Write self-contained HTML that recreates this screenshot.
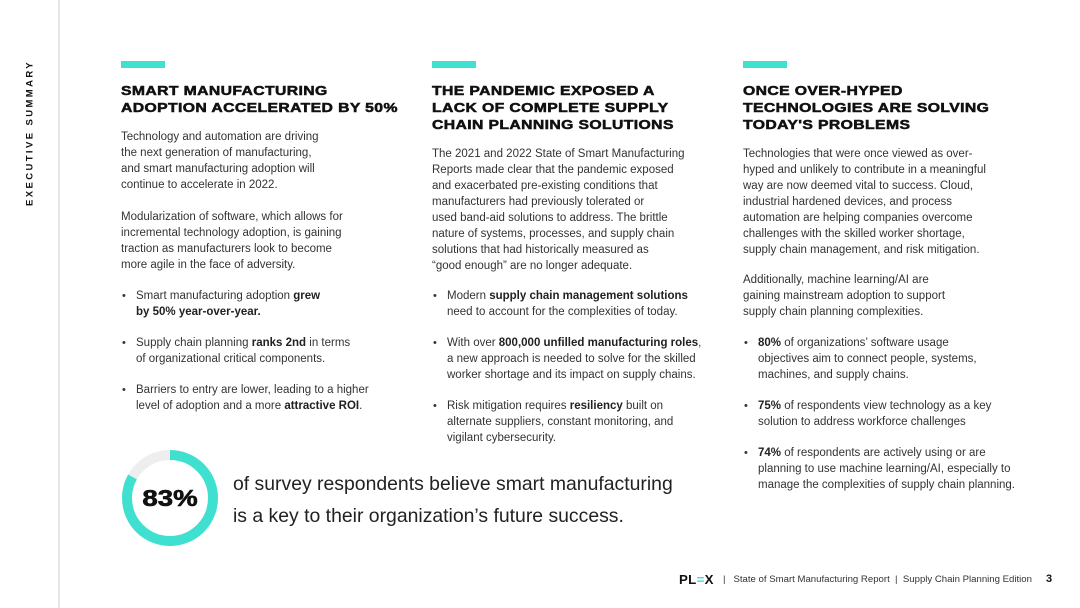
<!DOCTYPE html>
<html><head><meta charset="utf-8"><style>
*{margin:0;padding:0;box-sizing:border-box}
body{width:1080px;height:608px;background:#fff;position:relative;overflow:hidden;font-family:"Liberation Sans",Arial,sans-serif;color:#333}
.l{position:absolute;font-size:11.5px;line-height:16px;white-space:nowrap}
.h{position:absolute;font-family:"Liberation Sans",Arial,sans-serif;font-weight:900;font-size:12.5px;line-height:17px;color:#111;white-space:nowrap;letter-spacing:0.3px;-webkit-text-stroke:0.5px #111;transform:scaleX(1.26);transform-origin:0 0}
.bar{position:absolute;top:61px;width:44px;height:7px;background:#3fe0d0}
b{color:#222}
.d{position:absolute;font-size:11px;line-height:16px}
</style></head><body>
<div style="position:absolute;left:58px;top:0;width:2px;height:608px;background:#e6e6e6"></div>
<div style="position:absolute;left:30px;top:133px;transform:translate(-50%,-50%) rotate(-90deg);font-weight:bold;font-size:9.5px;letter-spacing:2.4px;color:#111;white-space:nowrap">EXECUTIVE SUMMARY</div>

<div class="bar" style="left:121px"></div>
<div class="bar" style="left:432px"></div>
<div class="bar" style="left:743px"></div>

<div class="h" style="left:121px;top:83px">SMART MANUFACTURING<br>ADOPTION ACCELERATED BY 50%</div>
<div class="h" style="left:432px;top:83px">THE PANDEMIC EXPOSED A<br>LACK OF COMPLETE SUPPLY<br>CHAIN PLANNING SOLUTIONS</div>
<div class="h" style="left:743px;top:83px">ONCE OVER-HYPED<br>TECHNOLOGIES ARE SOLVING<br>TODAY'S PROBLEMS</div>

<!-- col1 -->
<div class="l" style="left:121px;top:129px">Technology and automation are driving<br>the next generation of manufacturing,<br>and smart manufacturing adoption will<br>continue to accelerate in 2022.</div>
<div class="l" style="left:121px;top:209px">Modularization of software, which allows for<br>incremental technology adoption, is gaining<br>traction as manufacturers look to become<br>more agile in the face of adversity.</div>
<div class="d" style="left:122px;top:288px">•</div>
<div class="l" style="left:136px;top:288px">Smart manufacturing adoption <b>grew</b><br><b>by 50% year-over-year.</b></div>
<div class="d" style="left:122px;top:335px">•</div>
<div class="l" style="left:136px;top:335px">Supply chain planning <b>ranks 2nd</b> in terms<br>of organizational critical components.</div>
<div class="d" style="left:122px;top:382px">•</div>
<div class="l" style="left:136px;top:382px">Barriers to entry are lower, leading to a higher<br>level of adoption and a more <b>attractive ROI</b>.</div>

<!-- col2 -->
<div class="l" style="left:432px;top:146px">The 2021 and 2022 State of Smart Manufacturing<br>Reports made clear that the pandemic exposed<br>and exacerbated pre-existing conditions that<br>manufacturers had previously tolerated or<br>used band-aid solutions to address. The brittle<br>nature of systems, processes, and supply chain<br>solutions that had historically measured as<br>“good enough” are no longer adequate.</div>
<div class="d" style="left:433px;top:288px">•</div>
<div class="l" style="left:447px;top:288px">Modern <b>supply chain management solutions</b><br>need to account for the complexities of today.</div>
<div class="d" style="left:433px;top:335px">•</div>
<div class="l" style="left:447px;top:335px">With over <b>800,000 unfilled manufacturing roles</b>,<br>a new approach is needed to solve for the skilled<br>worker shortage and its impact on supply chains.</div>
<div class="d" style="left:433px;top:398px">•</div>
<div class="l" style="left:447px;top:398px">Risk mitigation requires <b>resiliency</b> built on<br>alternate suppliers, constant monitoring, and<br>vigilant cybersecurity.</div>

<!-- col3 -->
<div class="l" style="left:743px;top:146px">Technologies that were once viewed as over-<br>hyped and unlikely to contribute in a meaningful<br>way are now deemed vital to success. Cloud,<br>industrial hardened devices, and process<br>automation are helping companies overcome<br>challenges with the skilled worker shortage,<br>supply chain management, and risk mitigation.</div>
<div class="l" style="left:743px;top:272px">Additionally, machine learning/AI are<br>gaining mainstream adoption to support<br>supply chain planning complexities.</div>
<div class="d" style="left:744px;top:335px">•</div>
<div class="l" style="left:758px;top:335px"><b>80%</b> of organizations’ software usage<br>objectives aim to connect people, systems,<br>machines, and supply chains.</div>
<div class="d" style="left:744px;top:398px">•</div>
<div class="l" style="left:758px;top:398px"><b>75%</b> of respondents view technology as a key<br>solution to address workforce challenges</div>
<div class="d" style="left:744px;top:445px">•</div>
<div class="l" style="left:758px;top:445px"><b>74%</b> of respondents are actively using or are<br>planning to use machine learning/AI, especially to<br>manage the complexities of supply chain planning.</div>

<!-- donut -->
<svg style="position:absolute;left:118px;top:446px" width="104" height="104" viewBox="0 0 104 104">
<circle cx="52" cy="52" r="43" fill="none" stroke="#eeeeee" stroke-width="10"/>
<circle cx="52" cy="52" r="43" fill="none" stroke="#3fe0d0" stroke-width="10" stroke-dasharray="224.3 270.2" transform="rotate(-90 52 52)"/>
</svg>
<div style="position:absolute;left:120px;top:484px;width:100px;text-align:center;"><span style="display:inline-block;font-weight:900;font-size:23px;line-height:28px;color:#111;-webkit-text-stroke:0.6px #111;transform:scaleX(1.2)">83%</span></div>
<div style="position:absolute;left:233px;top:468px;font-size:19.4px;line-height:32px;color:#222;white-space:nowrap">of survey respondents believe smart manufacturing<br>is a key to their organization’s future success.</div>

<!-- footer -->
<div style="position:absolute;left:679px;top:572px;font-weight:900;font-size:13px;letter-spacing:0.3px;color:#111;white-space:nowrap;transform:scaleX(1.02);transform-origin:0 0">PL<span style="color:#3fe0d0">=</span>X</div>
<div style="position:absolute;left:723px;top:574px;font-size:9.6px;color:#333;white-space:nowrap">|&nbsp;&nbsp;&nbsp;State of Smart Manufacturing Report&nbsp;&nbsp;|&nbsp;&nbsp;Supply Chain Planning Edition</div>
<div style="position:absolute;left:1046px;top:573px;font-size:11px;font-weight:bold;color:#111">3</div>
</body></html>
